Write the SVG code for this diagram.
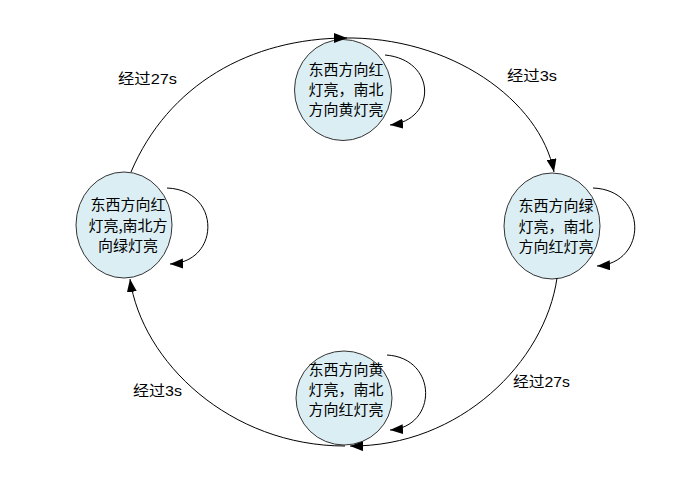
<svg xmlns="http://www.w3.org/2000/svg" width="688" height="482" viewBox="0 0 688 482">
<style>
.node{fill:#dbeef4;stroke:#333;stroke-width:1}
.t{font-family:"Noto Sans CJK SC","Liberation Sans",sans-serif;font-size:15px;fill:#000;text-anchor:middle}
.lab{font-family:"Liberation Sans","Noto Sans CJK SC",sans-serif;font-size:15px;fill:#000}
.c{fill:none;stroke:#000;stroke-width:1}
</style>
<defs>
<marker id="ah" markerUnits="userSpaceOnUse" markerWidth="13" markerHeight="10" refX="13" refY="5" orient="auto">
<path d="M0,0 L13,5 L0,10 z" fill="#000"/>
</marker>
</defs>
<rect width="688" height="482" fill="#fff"/>
<g id="n_top">
<ellipse class="node" cx="343" cy="90" rx="48.5" ry="50.5"/>
<text class="t" x="346" y="75">东西方向红</text>
<text class="t" x="346" y="95">灯亮，南北</text>
<text class="t" x="346" y="115">方向黄灯亮</text>
</g>
<g id="n_left">
<ellipse class="node" cx="124" cy="225" rx="48" ry="53"/>
<text class="t" x="128" y="210">东西方向红</text>
<text class="t" x="128" y="231">灯亮,南北方</text>
<text class="t" x="128" y="251">向绿灯亮</text>
</g>
<g id="n_right">
<ellipse class="node" cx="552" cy="226" rx="48" ry="53"/>
<text class="t" x="556" y="211">东西方向绿</text>
<text class="t" x="556" y="232">灯亮，南北</text>
<text class="t" x="556" y="252">方向红灯亮</text>
</g>
<g id="n_bottom">
<ellipse class="node" cx="344" cy="398" rx="48" ry="47"/>
<text class="t" x="346" y="375">东西方向黄</text>
<text class="t" x="346" y="395">灯亮，南北</text>
<text class="t" x="346" y="415">方向红灯亮</text>
</g>
<g id="connectors">
<path class="c" marker-end="url(#ah)" d="M131,172 C168,85 250,38 347,38"/>
<path class="c" marker-end="url(#ah)" d="M343,38 C450,36 540,100 554,172"/>
<path class="c" marker-end="url(#ah)" d="M557,278 C545,362 460,447 350,446"/>
<path class="c" marker-end="url(#ah)" d="M345,446 C230,446 142,362 130,279"/>
<path class="c" marker-end="url(#ah)" d="M385,55 C437,60 437,120 390,125"/>
<path class="c" marker-end="url(#ah)" d="M167,188 C221,190 221,262 170,264"/>
<path class="c" marker-end="url(#ah)" d="M593,188 C648,190 648,263 597,266"/>
<path class="c" marker-end="url(#ah)" d="M387,355 C438,358 438,427 390,430"/>
</g>
<g id="labels">
<text class="lab" x="118" y="84" textLength="59" lengthAdjust="spacingAndGlyphs">经过27s</text>
<text class="lab" x="507" y="81" textLength="50" lengthAdjust="spacingAndGlyphs">经过3s</text>
<text class="lab" x="513" y="387" textLength="57" lengthAdjust="spacingAndGlyphs">经过27s</text>
<text class="lab" x="133" y="396" textLength="49" lengthAdjust="spacingAndGlyphs">经过3s</text>
</g>
</svg>
